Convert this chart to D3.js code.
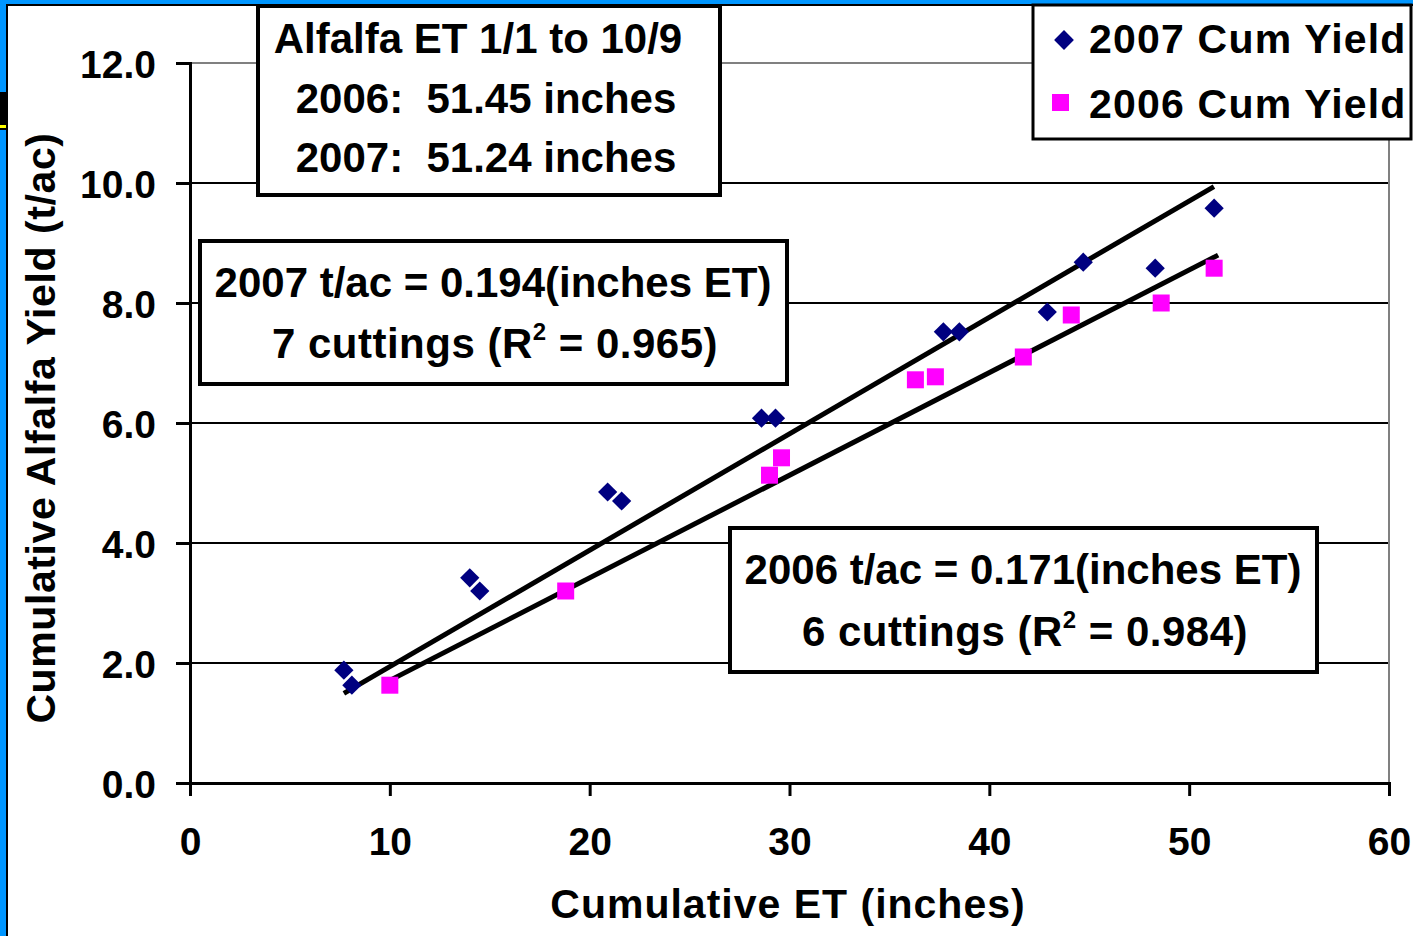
<!DOCTYPE html>
<html>
<head>
<meta charset="utf-8">
<script src="https://cdn.jsdelivr.net/npm/d3@7"></script>
<style>
  body { margin: 0; background: #0096ff; overflow: hidden; }
  svg text { font-family: "Liberation Sans", Arial, sans-serif; font-weight: bold; fill: #000; }
</style>
</head>
<body>
<div id="chart"></div>
<script>
// cumulative ET (inches) and cumulative yield (t/ac)
const et2007 = [7.7, 8.1, 14.0, 14.5, 20.9, 21.6, 28.6, 29.3, 37.7, 38.5, 42.9, 44.7, 48.3, 51.25];
const yield2007 = [1.88, 1.63, 3.42, 3.2, 4.85, 4.7, 6.08, 6.08, 7.52, 7.52, 7.85, 8.68, 8.58, 9.58];
const et2006 = [10.0, 18.8, 29.0, 29.6, 36.3, 37.3, 41.7, 44.1, 48.6, 51.25];
const yield2006 = [1.63, 3.2, 5.13, 5.42, 6.72, 6.77, 7.1, 7.8, 8.0, 8.58];

// fitted lines shown on the slide (slope through origin) and the ET span they cover
const trendSlopes = [0.194, 0.171];
const trendRanges = [[7.7, 51.24], [10.1, 51.45]];

const xTicks = [0, 10, 20, 30, 40, 50, 60];
const yTicks = [0, 2, 4, 6, 8, 10, 12];
const seriesNames = ['2007 Cum Yield', '2006 Cum Yield'];

const W = 1413, H = 936;
const plot = { left: 190, right: 1389, top: 63, bottom: 783 };

const svg = d3.select('#chart').append('svg')
    .attr('width', W)
    .attr('height', H);

// slide remnant on the left edge
svg.append('rect').attr('x', 0).attr('y', 92).attr('width', 7).attr('height', 38).attr('fill', '#000');
svg.append('rect').attr('x', 0).attr('y', 125).attr('width', 6).attr('height', 3).attr('fill', '#ffff00');

// white card
svg.append('rect')
    .attr('x', 7).attr('y', 5)
    .attr('width', W).attr('height', H)
    .attr('fill', '#fff')
    .attr('stroke', '#000')
    .attr('stroke-width', 2);

const x = d3.scaleLinear().domain([0, 60]).range([plot.left, plot.right]);
const y = d3.scaleLinear().domain([0, 12]).range([plot.bottom, plot.top]);

// gridlines
svg.append('g')
    .selectAll('line')
    .data(yTicks.filter(d => d > 0))
    .enter()
    .append('line')
    .attr('x1', plot.left).attr('x2', plot.right)
    .attr('y1', d => y(d)).attr('y2', d => y(d))
    .attr('stroke', d => d === 12 ? '#808080' : '#000')
    .attr('stroke-width', 2);

// right border of plot
svg.append('line')
    .attr('x1', plot.right).attr('x2', plot.right)
    .attr('y1', plot.top).attr('y2', plot.bottom)
    .attr('stroke', '#808080')
    .attr('stroke-width', 2);

// axes
const xAxis = svg.append('g')
    .attr('transform', `translate(0, ${plot.bottom})`)
    .call(d3.axisBottom(x).tickValues(xTicks).tickSize(13).tickPadding(31).tickFormat(d3.format('d')));
const yAxis = svg.append('g')
    .attr('transform', `translate(${plot.left}, 0)`)
    .call(d3.axisLeft(y).tickValues(yTicks).tickSize(14).tickPadding(20).tickFormat(d3.format('.1f')));

[xAxis, yAxis].forEach(a => {
    a.select('.domain').attr('stroke', '#000').attr('stroke-width', 3);
    a.selectAll('.tick line').attr('stroke', '#000').attr('stroke-width', 3);
    a.selectAll('.tick text')
        .attr('font-family', '"Liberation Sans", Arial, sans-serif')
        .attr('font-weight', 'bold')
        .attr('font-size', 39)
        .attr('fill', '#000');
});
yAxis.selectAll('.tick text').attr('dy', '0.36em');
xAxis.selectAll('.tick text').attr('dy', '0.71em');

// axis titles
svg.append('text')
    .attr('x', 788).attr('y', 918)
    .attr('text-anchor', 'middle')
    .attr('font-size', 41)
    .attr('letter-spacing', 1)
    .text('Cumulative ET (inches)');

svg.append('text')
    .attr('transform', `translate(55, 428) rotate(-90)`)
    .attr('text-anchor', 'middle')
    .attr('font-size', 41)
    .attr('letter-spacing', 0.6)
    .text('Cumulative Alfalfa Yield (t/ac)');

// trend lines
svg.append('g')
    .selectAll('line')
    .data(trendSlopes.map((s, i) => ({ slope: s, range: trendRanges[i] })))
    .enter()
    .append('line')
    .attr('x1', d => x(d.range[0])).attr('y1', d => y(d.slope * d.range[0]))
    .attr('x2', d => x(d.range[1])).attr('y2', d => y(d.slope * d.range[1]))
    .attr('stroke', '#000')
    .attr('stroke-width', 5);

// 2007 diamonds
svg.append('g')
    .selectAll('rect')
    .data(et2007.map((v, i) => [v, yield2007[i]]))
    .enter()
    .append('rect')
    .attr('x', -6.8).attr('y', -6.8)
    .attr('width', 13.6).attr('height', 13.6)
    .attr('transform', d => `translate(${x(d[0])}, ${y(d[1])}) rotate(45)`)
    .attr('fill', '#000080');

// 2006 squares
svg.append('g')
    .selectAll('rect')
    .data(et2006.map((v, i) => [v, yield2006[i]]))
    .enter()
    .append('rect')
    .attr('x', d => x(d[0]) - 8.5).attr('y', d => y(d[1]) - 8.5)
    .attr('width', 17).attr('height', 17)
    .attr('fill', '#ff00ff');

// annotation boxes
function noteBox(x0, y0, w, h, lines) {
    svg.append('rect')
        .attr('x', x0).attr('y', y0)
        .attr('width', w).attr('height', h)
        .attr('fill', '#fff')
        .attr('stroke', '#000')
        .attr('stroke-width', 4);
    lines.forEach(l => {
        const t = svg.append('text')
            .attr('x', l.x).attr('y', l.y)
            .attr('text-anchor', 'middle')
            .attr('font-size', 42)
            .attr('letter-spacing', l.ls || 0);
        l.parts.forEach(p => {
            const ts = t.append('tspan').text(p.t);
            if (p.sup) {
                ts.attr('font-size', 24).attr('baseline-shift', '75%');
            }
        });
    });
}

noteBox(258, 6, 462, 189, [
    { x: 478, y: 53, parts: [{ t: 'Alfalfa ET 1/1 to 10/9' }] },
    { x: 486, y: 113, parts: [{ t: '2006:\u00a0\u00a051.45 inches' }] },
    { x: 486, y: 172, parts: [{ t: '2007:\u00a0\u00a051.24 inches' }] }
]);

noteBox(200, 241, 587, 143, [
    { x: 493, y: 297, parts: [{ t: '2007 t/ac = 0.194(inches ET)' }] },
    { x: 495, y: 358, ls: 0.5, parts: [{ t: '7 cuttings (R' }, { t: '2', sup: true }, { t: ' = 0.965)' }] }
]);

noteBox(730, 528, 587, 144, [
    { x: 1023, y: 584, parts: [{ t: '2006 t/ac = 0.171(inches ET)' }] },
    { x: 1025, y: 646, ls: 0.5, parts: [{ t: '6 cuttings (R' }, { t: '2', sup: true }, { t: ' = 0.984)' }] }
]);

// legend
const legend = svg.append('g');
legend.append('rect')
    .attr('x', 1033).attr('y', 5)
    .attr('width', 378).attr('height', 134)
    .attr('fill', '#fff')
    .attr('stroke', '#000')
    .attr('stroke-width', 3);

const legendRows = legend.selectAll('.legend-row')
    .data(seriesNames)
    .enter()
    .append('g')
    .attr('class', 'legend-row')
    .attr('transform', (d, i) => `translate(0, ${53 + i * 65})`);

legendRows.append('text')
    .attr('x', 1089).attr('y', 0)
    .attr('font-size', 41)
    .attr('letter-spacing', 1.2)
    .text(d => d);

legendRows.filter((d, i) => i === 0)
    .append('rect')
    .attr('x', -7).attr('y', -7)
    .attr('width', 14).attr('height', 14)
    .attr('transform', 'translate(1064, -13) rotate(45)')
    .attr('fill', '#000080');

legendRows.filter((d, i) => i === 1)
    .append('rect')
    .attr('x', 1052).attr('y', -24)
    .attr('width', 17).attr('height', 17)
    .attr('fill', '#ff00ff');
</script>
</body>
</html>
